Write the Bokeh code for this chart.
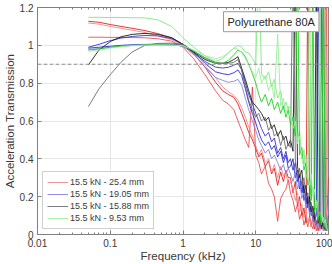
from bokeh.plotting import figure
from bokeh.models import (FixedTicker, CustomJSTickFormatter, LogAxis, LinearAxis,
                          Span, Label, Legend, LegendItem, Range1d)
from bokeh.embed import file_html
from bokeh.resources import INLINE

# Frequency samples (kHz) shared by every measured transmissibility curve
freq_khz = [0.05, 0.07, 0.1, 0.14, 0.2, 0.3, 0.45, 0.7, 1.0,
            1.4, 2.0, 2.8, 3.5, 4.2, 5.0, 5.7, 6.4, 7.2, 8.0,
            9, 10, 11, 12, 13.5, 15, 16.5, 18, 20, 22,
            24, 26, 28, 30, 32.5, 35, 37.5, 40, 43, 46,
            49, 52, 55, 58, 61, 64, 68, 72, 76, 80,
            85, 90, 95, 100]

# 15.5 kN - 25.4 mm
red_a = [1.127, 1.122, 1.110, 1.100, 1.090, 1.078, 1.062, 1.040, 1.005,
         0.955, 0.885, 0.805, 0.760, 0.740, 0.725, 0.690, 0.640, 0.590, 0.540,
         0.500, 0.455, 0.410, 0.430, 0.360, 0.390, 0.320, 0.350, 0.260, 0.330,
         0.280, 0.340, 0.300,
         0.30, 0.22, 0.28, 0.15, 0.20, 0.10, 0.14, 0.06, 1.40, 0.08, 0.04,
         0.10, 0.03, 0.07, 0.02, 0.06, 0.03, 0.08, 0.03, 0.10, 0.30]
red_b = [1.043, 1.043, 1.042, 1.042, 1.041, 1.040, 1.035, 1.022, 0.990,
         0.930, 0.845, 0.760, 0.710, 0.690, 0.660, 0.600, 0.550, 0.500, 0.460,
         0.780, 0.420, 0.380, 0.320, 0.360, 0.270, 0.240, 0.200, 0.070, 0.190,
         0.220, 0.240, 0.290,
         0.22, 0.18, 0.12, 0.16, 0.08, 0.12, 0.05, 0.09, 0.04, 0.10, 0.05,
         0.03, 0.08, 0.02, 0.06, 0.03, 0.05, 0.02, 0.06, 1.40, 1.40]
red_c = [1.118, 1.112, 1.100, 1.090, 1.080, 1.068, 1.050, 1.030, 0.998,
         0.950, 0.895, 0.830, 0.780, 0.755, 0.735, 0.710, 0.670, 0.620, 0.570,
         0.520, 0.470, 0.420, 0.450, 0.380, 0.400, 0.330, 0.370, 0.300, 0.360,
         0.310, 0.330, 0.260,
         0.28, 0.24, 0.18, 0.22, 0.12, 0.16, 0.09, 0.12, 0.06, 0.09, 0.04,
         0.07, 0.05, 0.03, 0.06, 0.02, 0.04, 0.02, 1.40, 0.05, 1.40]

# 15.5 kN - 19.05 mm
blue_a = [0.990, 1.005, 1.025, 1.038, 1.047, 1.052, 1.050, 1.035, 1.005,
          0.960, 0.915, 0.885, 0.880, 0.884, 0.895, 0.905, 0.870, 0.800, 0.740,
          0.690, 0.640, 0.600, 0.560, 0.520, 0.540, 0.490, 0.510, 0.430, 0.460,
          0.400, 0.440, 0.380,
          0.40, 0.34, 0.38, 0.28, 0.32, 0.22, 0.26, 0.16, 0.20, 0.12, 0.16,
          0.08, 0.12, 0.05, 0.09, 0.04, 1.40, 0.05, 0.02, 0.06, 0.20]
blue_b = [0.985, 0.990, 0.995, 1.000, 1.003, 1.005, 1.006, 1.006, 1.000,
          0.965, 0.905, 0.860, 0.850, 0.845, 0.855, 0.870, 0.840, 0.770, 0.700,
          0.640, 0.590, 0.540, 0.500, 0.470, 0.490, 0.450, 0.470, 0.410, 0.440,
          0.380, 0.420, 0.350,
          0.36, 0.40, 0.30, 0.34, 0.24, 0.28, 0.18, 0.22, 0.14, 0.18, 0.10,
          0.14, 0.07, 0.10, 1.40, 0.06, 0.03, 0.07, 0.03, 0.05, 0.20]
blue_c = [0.978, 0.983, 0.990, 0.996, 1.000, 1.003, 1.004, 1.003, 0.995,
          0.955, 0.885, 0.830, 0.815, 0.805, 0.810, 0.820, 0.790, 0.720, 0.660,
          0.600, 0.550, 0.500, 0.470, 0.430, 0.450, 0.400, 0.420, 0.380, 0.340,
          0.370, 0.320, 0.350,
          0.32, 0.28, 0.33, 0.24, 0.28, 0.19, 0.23, 0.14, 0.18, 0.10, 0.13,
          0.07, 0.10, 0.04, 0.07, 0.03, 0.06, 1.30, 0.04, 0.02, 0.15]

# 15.5 kN - 15.88 mm
black_a = [0.896, 0.975, 1.020, 1.045, 1.058, 1.063, 1.058, 1.040, 1.005,
           0.965, 0.925, 0.905, 0.905, 0.910, 0.925, 0.940, 0.880, 0.820, 0.760,
           0.700, 0.680, 0.660, 0.640, 0.600, 0.620, 0.560, 0.580, 0.520, 0.550,
           0.500, 0.520, 0.470,
           0.50, 0.44, 1.45, 0.36, 0.30, 0.34, 0.22, 0.26, 0.16, 0.20, 0.12,
           0.15, 0.08, 1.40, 0.06, 0.10, 0.04, 0.07, 0.03, 0.05, 0.10]
black_b = [0.676, 0.770, 0.845, 0.910, 0.965, 1.000, 1.010, 1.012, 1.005,
           0.970, 0.935, 0.910, 0.905, 0.905, 0.910, 0.925, 0.870, 0.780, 0.710,
           0.660, 0.620, 0.640, 0.600, 0.620, 0.550, 0.580, 0.520, 0.540, 0.470,
           0.520, 0.450, 0.480,
           0.46, 1.45, 0.40, 0.30, 0.35, 0.26, 0.30, 0.19, 0.22, 0.14, 0.17,
           0.10, 0.13, 0.06, 0.09, 0.04, 1.40, 0.03, 0.06, 0.02, 0.10]

# 15.5 kN - 9.53 mm
green_a = [1.148, 1.148, 1.147, 1.147, 1.146, 1.145, 1.135, 1.100, 1.040,
           0.990, 0.945, 0.915, 0.930, 0.960, 0.985, 1.000, 0.990, 0.965, 0.960,
           0.930, 0.900, 1.450, 0.850, 0.820, 0.860, 0.780, 0.820, 0.720, 0.760,
           0.660, 0.700, 0.660,
           0.68, 0.60, 0.64, 0.50, 0.55, 0.40, 0.45, 0.30, 0.34, 1.45, 0.20,
           0.25, 0.14, 0.18, 0.09, 0.12, 0.06, 0.09, 0.04, 0.06, 0.20]
green_b = [0.975, 0.980, 0.990, 0.995, 1.000, 1.002, 1.003, 1.002, 1.000,
           0.970, 0.930, 0.905, 0.905, 0.920, 0.950, 0.975, 0.965, 0.940, 0.900,
           0.850, 0.800, 0.740, 0.700, 0.740, 0.680, 0.720, 0.660, 0.700, 0.640,
           0.680, 0.620, 0.660,
           0.58, 0.62, 0.52, 1.45, 0.42, 0.46, 0.34, 0.38, 0.26, 0.30, 0.18,
           1.45, 0.12, 0.16, 0.08, 0.12, 0.05, 1.45, 0.03, 0.05, 0.02]
green_c = [0.970, 0.975, 0.985, 0.992, 0.998, 1.001, 1.002, 1.001, 0.998,
           0.975, 0.945, 0.930, 0.940, 0.960, 0.985, 0.980, 0.960, 0.930, 0.900,
           0.860, 0.830, 0.880, 0.800, 0.840, 0.760, 0.800, 0.720, 1.060, 0.680,
           0.720, 0.640, 0.680,
           0.62, 0.56, 0.60, 0.48, 0.52, 0.40, 0.36, 0.42, 0.30, 0.26, 0.32,
           0.20, 0.24, 0.14, 0.18, 1.45, 0.10, 0.06, 0.08, 0.03, 0.02]

legend_labels = ["15.5 kN - 25.4 mm", "15.5 kN - 19.05 mm",
                 "15.5 kN - 15.88 mm", "15.5 kN - 9.53 mm"]
y_ticks = [0, 0.2, 0.4, 0.6, 0.8, 1.0, 1.2]
x_ticks = [0.01, 0.1, 1, 10, 100]
reference_level = 0.9
note_text = "Polyurethane 80A"
x_title = "Frequency (kHz)"
y_title = "Acceleration Transmission"

series = [
    # (label, [(values, colour, alpha), ...], index of the curve shown in legend)
    (legend_labels[0], [(red_a, "#e21f1f", 0.9), (red_b, "#e83a3a", 0.8),
                        (red_c, "#f08a8a", 0.9)], 2),
    (legend_labels[1], [(blue_a, "#3a34c8", 0.9), (blue_b, "#1f1fd6", 0.85),
                        (blue_c, "#8484e6", 0.9)], 2),
    (legend_labels[2], [(black_a, "#1c1c1c", 0.9), (black_b, "#6e6e6e", 0.9)], 1),
    (legend_labels[3], [(green_a, "#86ea86", 0.95), (green_b, "#1fd01f", 0.9),
                        (green_c, "#9cee9c", 0.9)], 2),
]

for _, curves, _ in series:
    for vals, _, _ in curves:
        if len(vals) != len(freq_khz):
            raise ValueError("curve length mismatch: %d" % len(vals))

FONT = "Liberation Sans"
AXIS_GREY = "#808080"
TEXT_GREY = "#3a3a3a"

p = figure(width=332, height=264, x_axis_type="log",
           x_range=Range1d(0.01, 100), y_range=Range1d(0, 1.2),
           output_backend="svg", toolbar_location=None,
           min_border_left=34, min_border_right=4,
           min_border_top=7, min_border_bottom=28)
p.background_fill_color = "white"
p.border_fill_color = "white"
p.outline_line_color = AXIS_GREY

x_minor = [m * d for d in (0.01, 0.1, 1, 10) for m in range(2, 10)]
x_ticker = FixedTicker(ticks=x_ticks, minor_ticks=x_minor)
y_ticker = FixedTicker(ticks=y_ticks, minor_ticks=[])

xa = p.xaxis[0]
xa.ticker = x_ticker
xa.formatter = CustomJSTickFormatter(code="return String(Math.round(tick*100)/100);")
xa.axis_label = x_title
ya = p.yaxis[0]
ya.ticker = y_ticker
ya.axis_label = y_title

for ax in (xa, ya):
    ax.axis_line_color = AXIS_GREY
    ax.major_tick_line_color = AXIS_GREY
    ax.minor_tick_line_color = AXIS_GREY
    ax.major_tick_in = 4
    ax.major_tick_out = 0
    ax.minor_tick_in = 2
    ax.minor_tick_out = 0
    ax.major_label_text_font = FONT
    ax.major_label_text_font_size = "10px"
    ax.major_label_text_color = TEXT_GREY
    ax.axis_label_text_font = FONT
    ax.axis_label_text_font_size = "11.5px"
    ax.axis_label_text_font_style = "normal"
    ax.axis_label_text_color = TEXT_GREY
    ax.major_label_standoff = 4
    ax.axis_label_standoff = 1
xa.axis_label_standoff = 0

# ticks on the top edge of the box
top = LogAxis(ticker=x_ticker, formatter=CustomJSTickFormatter(code="return '';"),
              axis_line_color=None, major_tick_line_color=AXIS_GREY,
              minor_tick_line_color=AXIS_GREY, major_tick_in=4, major_tick_out=0,
              minor_tick_in=2, minor_tick_out=0, major_label_standoff=0,
              major_label_text_font_size="0px")
p.add_layout(top, "above")
right = LinearAxis(ticker=y_ticker, formatter=CustomJSTickFormatter(code="return '';"),
                   axis_line_color=None, major_tick_line_color=AXIS_GREY,
                   major_tick_in=4, major_tick_out=0, major_label_standoff=0,
                   major_label_text_font_size="0px")
p.add_layout(right, "right")

p.xgrid.grid_line_color = "#e6e6e6"
p.ygrid.grid_line_color = "#e6e6e6"
p.xgrid.ticker = x_ticker
p.ygrid.ticker = y_ticker

p.add_layout(Span(location=reference_level, dimension="width",
                  line_color="#8a8a8a", line_width=1, line_dash="4 2"))

items = []
for label, curves, leg_idx in series:
    renderers = []
    for vals, colour, alpha in curves:
        r = p.line(freq_khz, vals, line_color=colour, line_alpha=alpha, line_width=1)
        renderers.append(r)
    items.append(LegendItem(label=label, renderers=[renderers[leg_idx]]))

legend = Legend(items=items, location="bottom_left", margin=5, padding=4,
                spacing=0, label_height=12, glyph_height=12, glyph_width=21,
                label_standoff=2, label_text_font=FONT,
                label_text_font_size="9px", label_text_color=TEXT_GREY,
                border_line_color="#a0a0a0", background_fill_color="white",
                background_fill_alpha=1.0)
p.add_layout(legend)

p.add_layout(Label(x=3.6, y=1.072, text=note_text, text_font=FONT,
                   text_font_size="11px", text_color="#262626",
                   background_fill_color="white", border_line_color="#9a9a9a",
                   padding=4))

open("out.html", "w").write(file_html(p, INLINE))
